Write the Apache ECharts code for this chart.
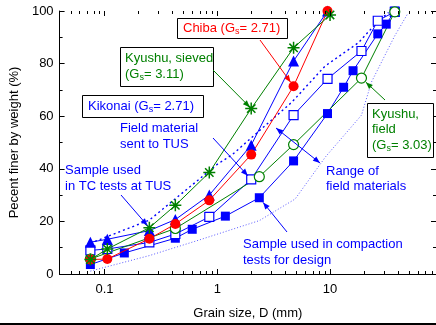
<!DOCTYPE html>
<html>
<head>
<meta charset="utf-8">
<script src="https://cdn.jsdelivr.net/npm/echarts@6/dist/echarts.min.js"></script>
<style>
  html, body { margin: 0; padding: 0; background: #fff; }
  #chart { width: 436px; height: 325px; }
</style>
</head>
<body>
<div id="chart"></div>
<script>
// Grain size distribution curves: sieve size D (mm) vs percent finer by weight (%)
const kikonaiD = [0.075, 0.106, 0.25, 0.425, 0.85, 2, 4.75, 9.5];
const kikonaiP = [12.1, 13.2, 16.5, 20.7, 30, 49, 81, 100];

const chibaD = [0.075, 0.106, 0.25, 0.425, 0.85, 2, 4.75, 9.5];
const chibaP = [5.5, 5.7, 13.4, 19, 28, 45.4, 71.4, 100];

const sievedD = [0.075, 0.106, 0.25, 0.425, 0.85, 2, 4.75, 10];
const sievedP = [5.5, 9.5, 17.6, 26.1, 38.6, 62.9, 86, 98.5];

const fieldD = [0.075, 0.425, 2.36, 4.75, 19, 37.5];
const fieldP = [5.7, 17.3, 37, 49.2, 74.5, 99.7];

const tusD = [0.075, 0.106, 0.25, 0.425, 0.85, 2, 4.75, 9.5, 19, 26.5, 37.5];
const tusP = [9, 9.5, 12, 15.2, 21.7, 36, 60.4, 74.2, 84.8, 96.3, 99.7];

const designD = [0.075, 0.15, 0.425, 0.6, 1.18, 2.36, 4.75, 9.5, 13.2, 16, 26.5, 31.5, 37.5];
const designP = [3.6, 8, 13.6, 17, 22, 29, 43, 61, 71, 77.3, 91.3, 95, 100];

// Range of field materials (upper and lower bounds)
const upperD = [0.075, 0.25, 1, 1.36, 4.6, 9, 17.8, 26.6, 33];
const upperP = [11.7, 20.5, 41.7, 45.4, 65.4, 79, 87.9, 96, 99.4];
const lowerD = [0.075, 0.25, 0.7, 2.36, 4.9, 9.1, 19, 23.3, 37.3, 49];
const lowerP = [1.1, 7, 13, 20.3, 28.5, 44.5, 60.4, 73, 90.4, 99.1];

// Axis ticks and labels
const xMajorTicks = [0.1, 1, 10];
const xTickLabels = ['0.1', '1', '10'];
const xMinorTicks = [0.05, 0.06, 0.07, 0.08, 0.09,
  0.2, 0.3, 0.4, 0.5, 0.6, 0.7, 0.8, 0.9,
  2, 3, 4, 5, 6, 7, 8, 9,
  20, 30, 40, 50, 60, 70, 80];
const yTicks = [0, 20, 40, 60, 80, 100];

const BLUE = '#0000ff';
const RED = '#ff0000';
const GREEN = '#008000';
const FONT = "'Liberation Sans', Arial, sans-serif";
const STAR = 'path://M5,0L5,10M0,5L10,5M1.5,1.5L8.5,8.5M1.5,8.5L8.5,1.5';

const pairs = (xs, ys) => xs.map((x, i) => [x, ys[i]]);

const chart = echarts.init(document.getElementById('chart'), null, { renderer: 'canvas' });

function tickSeries(values, len) {
  return {
    type: 'custom',
    xAxisIndex: 0, yAxisIndex: 0,
    silent: true,
    clip: false,
    z: 10,
    data: values.map(v => [v, 0]),
    renderItem(params, api) {
      const x = Math.round(api.coord([api.value(0), 0])[0]) + 0.5;
      const cs = params.coordSys;
      const yb = cs.y + cs.height;
      return {
        type: 'group',
        children: [
          { type: 'line', shape: { x1: x, y1: yb, x2: x, y2: yb - len }, style: { stroke: '#000', lineWidth: 1 } },
          { type: 'line', shape: { x1: x, y1: cs.y, x2: x, y2: cs.y + len }, style: { stroke: '#000', lineWidth: 1 } }
        ]
      };
    }
  };
}

const xAxisCommon = {
  type: 'log', logBase: 10, min: 0.04, max: 87,
  axisLine: { show: true, lineStyle: { color: '#000', width: 1 } },
  axisTick: { show: false },
  splitLine: { show: false },
  minorTick: { show: false },
  minorSplitLine: { show: false }
};
const yAxisCommon = {
  type: 'value', min: 0, max: 100, interval: 20,
  axisLine: { show: true, lineStyle: { color: '#000', width: 1 } },
  axisTick: { show: true, inside: true, length: 5, lineStyle: { color: '#000' } },
  minorTick: { show: true, splitNumber: 2, length: 3, lineStyle: { color: '#000' } },
  splitLine: { show: false }
};

chart.setOption({
  animation: false,
  backgroundColor: '#fff',
  grid: { left: 59, top: 11, width: 379, height: 267, containLabel: false },
  xAxis: [
    Object.assign({}, xAxisCommon, {
      position: 'bottom',
      name: 'Grain size, D (mm)',
      nameLocation: 'middle',
      nameGap: 33,
      nameTextStyle: { color: '#000', fontFamily: FONT, fontSize: 13 },
      axisLabel: {
        color: '#000', fontFamily: FONT, fontSize: 13, margin: 9,
        showMinLabel: false, showMaxLabel: false,
        formatter: v => {
          const i = xMajorTicks.findIndex(t => Math.abs(t - v) / t < 1e-6);
          return i >= 0 ? xTickLabels[i] : '';
        }
      }
    }),
    Object.assign({}, xAxisCommon, { position: 'top', axisLabel: { show: false } })
  ],
  yAxis: [
    Object.assign({}, yAxisCommon, {
      position: 'left',
      name: 'Pecent finer by weight (%)',
      nameLocation: 'middle',
      nameGap: 32,
      nameTextStyle: { color: '#000', fontFamily: FONT, fontSize: 13 },
      axisLabel: {
        color: '#000', fontFamily: FONT, fontSize: 13, margin: 6,
        formatter: v => yTicks.includes(v) ? String(v) : ''
      }
    }),
    Object.assign({}, yAxisCommon, { position: 'right', axisLabel: { show: false } })
  ],
  series: [
    tickSeries(xMajorTicks, 5),
    tickSeries(xMinorTicks, 3),
    {
      name: 'upper', type: 'line', data: pairs(upperD, upperP), showSymbol: false, symbol: 'none',
      lineStyle: { color: BLUE, width: 1.4, type: [2, 3] }, z: 3
    },
    {
      name: 'lower', type: 'line', data: pairs(lowerD, lowerP), showSymbol: false, symbol: 'none',
      lineStyle: { color: '#5a5aff', width: 1, type: [1, 2] }, z: 3
    },
    {
      name: 'design', type: 'line', data: pairs(designD, designP),
      symbol: 'rect', symbolSize: 9,
      lineStyle: { color: BLUE, width: 1 }, itemStyle: { color: BLUE }, z: 4
    },
    {
      name: 'tus', type: 'line', data: pairs(tusD, tusP),
      symbol: 'rect', symbolSize: 9,
      lineStyle: { color: BLUE, width: 1 }, itemStyle: { color: '#fff', borderColor: BLUE, borderWidth: 1.2 }, z: 4
    },
    {
      name: 'field', type: 'line', data: pairs(fieldD, fieldP),
      symbol: 'circle', symbolSize: 10,
      lineStyle: { color: GREEN, width: 1 }, itemStyle: { color: '#fff', borderColor: GREEN, borderWidth: 1.2 }, z: 4
    },
    {
      name: 'kikonai', type: 'line', data: pairs(kikonaiD, kikonaiP),
      symbol: 'triangle', symbolSize: 11,
      lineStyle: { color: BLUE, width: 1 }, itemStyle: { color: BLUE }, z: 5
    },
    {
      name: 'sieved', type: 'line', data: pairs(sievedD, sievedP),
      symbol: STAR, symbolSize: 12,
      lineStyle: { color: GREEN, width: 1 }, itemStyle: { color: 'none', borderColor: GREEN, borderWidth: 1.5 }, z: 6
    },
    {
      name: 'chiba', type: 'line', data: pairs(chibaD, chibaP),
      symbol: 'circle', symbolSize: 10,
      lineStyle: { color: RED, width: 1 }, itemStyle: { color: RED }, z: 5
    }
  ]
});

// ---- annotations ----
const toPx = (d, p) => chart.convertToPixel({ xAxisIndex: 0, yAxisIndex: 0 }, [d, p]);

function head(x1, y1, x2, y2, color) {
  const a = Math.atan2(y2 - y1, x2 - x1);
  const L = 7, W = 2.8;
  const bx = x2 - L * Math.cos(a), by = y2 - L * Math.sin(a);
  const nx = -Math.sin(a) * W, ny = Math.cos(a) * W;
  return {
    type: 'polygon', silent: true, z: 20,
    shape: { points: [[x2, y2], [bx + nx, by + ny], [bx - nx, by - ny]] },
    style: { fill: color }
  };
}
function arrow(x1, y1, x2, y2, color, gap, both) {
  const a = Math.atan2(y2 - y1, x2 - x1);
  const ex = x2 - gap * Math.cos(a), ey = y2 - gap * Math.sin(a);
  const out = [{
    type: 'line', silent: true, z: 20,
    shape: { x1, y1, x2: ex, y2: ey },
    style: { stroke: color, lineWidth: 1 }
  }, head(x1, y1, ex, ey, color)];
  if (both) out.push(head(ex, ey, x1, y1, color));
  return out;
}
function box(x, y, w, h) {
  return {
    type: 'rect', silent: true, z: 18,
    shape: { x: x + 0.5, y: y + 0.5, width: w, height: h },
    style: { fill: '#fff', stroke: '#000', lineWidth: 1 }
  };
}
function label(x, y, text, color) {
  return {
    type: 'text', silent: true, z: 21, x, y,
    style: {
      text,
      verticalAlign: 'middle', align: 'left',
      rich: {
        a: { fontFamily: FONT, fontSize: 13, fill: color },
        s: { fontFamily: FONT, fontSize: 9, fill: color, padding: [8, 0, 0, 0] }
      }
    }
  };
}

const chibaPt = toPx(chibaD[6], chibaP[6]);
const sievedPt = toPx(sievedD[5], sievedP[5]);
const tusPt = toPx(tusD[5], tusP[5]);
const tcPt = toPx(sievedD[2], sievedP[2]);
const fieldPt = toPx(fieldD[4], fieldP[4]);
const designPt = toPx(designD[5], designP[5]);

chart.setOption({
  graphic: [
    ...arrow(260, 40, chibaPt[0], chibaPt[1], RED, 5, false),
    ...arrow(213, 70, sievedPt[0], sievedPt[1], GREEN, 2, false),
    ...arrow(213, 138, tusPt[0], tusPt[1], BLUE, 5, false),
    ...arrow(121, 195, tcPt[0], tcPt[1], BLUE, 3, false),
    ...arrow(276, 128, 320, 163, BLUE, 0, true),
    ...arrow(385, 100, fieldPt[0], fieldPt[1], GREEN, 6, false),
    ...arrow(287, 232, designPt[0], designPt[1], BLUE, 6, false),

    box(177, 18, 110, 20),
    label(183, 28, '{a|Chiba (G}{s|s}{a|= 2.71)}', RED),

    box(120, 47, 93, 39),
    label(125, 58, '{a|Kyushu, sieved}', GREEN),
    label(125, 74, '{a|(G}{s|s}{a|= 3.11)}', GREEN),

    box(82, 95, 121, 22),
    label(88, 106, '{a|Kikonai (G}{s|s}{a|= 2.71)}', BLUE),

    label(120, 128, '{a|Field material}', BLUE),
    label(120, 144, '{a|sent to TUS}', BLUE),

    label(65, 170, '{a|Sample used}', BLUE),
    label(65, 186, '{a|in TC tests at TUS}', BLUE),

    label(326, 171, '{a|Range of}', BLUE),
    label(326, 186, '{a|field materials}', BLUE),

    box(367, 103, 66, 54),
    label(372, 114, '{a|Kyushu,}', GREEN),
    label(372, 129, '{a|field}', GREEN),
    label(372, 145, '{a|(G}{s|s}{a|= 3.03)}', GREEN),

    label(243, 244, '{a|Sample used in compaction}', BLUE),
    label(243, 260, '{a|tests for design}', BLUE),

    // bottom rule under the figure
    { type: 'rect', silent: true, z: 30, shape: { x: 0, y: 323, width: 436, height: 2 }, style: { fill: '#000' } }
  ]
});
</script>
</body>
</html>
